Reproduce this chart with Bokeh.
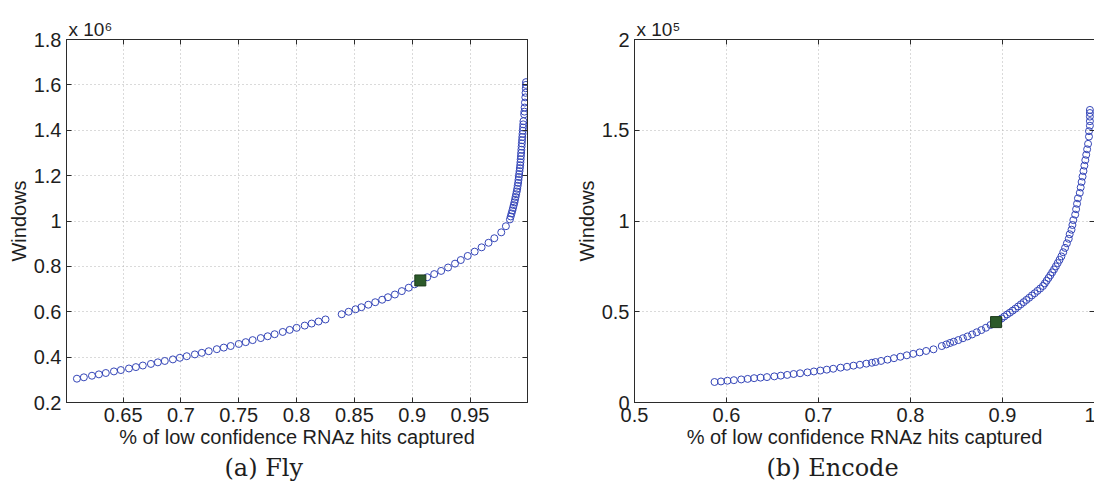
from bokeh.plotting import figure
from bokeh.models import Range1d, FixedTicker, LinearAxis, CustomJSTickFormatter, Title
from bokeh.layouts import row
from bokeh.embed import file_html
from bokeh.resources import INLINE

SANS = "Liberation Sans"
SERIF = "DejaVu Serif"

# ---------------- (a) Fly ----------------
fly_x = [0.610, 0.616, 0.623, 0.629, 0.635, 0.642, 0.648, 0.655, 0.661, 0.667,
         0.674, 0.680, 0.686, 0.693, 0.699, 0.705, 0.712, 0.718, 0.724, 0.731,
         0.737, 0.743, 0.750, 0.756, 0.762, 0.769, 0.775, 0.781, 0.788, 0.794,
         0.800, 0.807, 0.813, 0.819, 0.825,
         0.839, 0.845, 0.851, 0.856, 0.862, 0.868, 0.874, 0.879, 0.885, 0.891,
         0.897, 0.902, 0.907, 0.913, 0.919, 0.925, 0.931, 0.937, 0.942, 0.948,
         0.954, 0.960, 0.966, 0.971, 0.977, 0.981,
         0.9845, 0.9852, 0.9859, 0.9866, 0.9872, 0.9878, 0.9884, 0.9889, 0.9894, 0.9899,
         0.9904, 0.9908, 0.9912, 0.9916, 0.9919, 0.9922, 0.9925, 0.9928, 0.9931, 0.9934,
         0.9936, 0.9938, 0.9940, 0.9942, 0.9944, 0.9946, 0.9948, 0.9950, 0.9952, 0.9954,
         0.9956, 0.9958, 0.9960, 0.9962, 0.9968, 0.9970, 0.9972, 0.9975, 0.9978, 0.9980,
         0.9982, 0.9983, 0.9984]
fly_y = [305000, 311000, 318000, 324000, 330000, 337000, 343000, 350000, 356000, 363000,
         370000, 377000, 383000, 390000, 397000, 404000, 412000, 419000, 426000, 435000,
         442000, 449000, 458000, 466000, 475000, 484000, 492000, 501000, 511000, 520000,
         529000, 539000, 548000, 557000, 566000,
         589000, 600000, 611000, 620000, 631000, 642000, 653000, 664000, 676000, 691000,
         706000, 721000, 738000, 752000, 766000, 780000, 795000, 812000, 828000, 846000,
         865000, 884000, 904000, 924000, 950000, 977000,
         1007000, 1020000, 1033000, 1046000, 1058000, 1070000, 1082000, 1094000, 1106000, 1118000,
         1130000, 1142000, 1155000, 1168000, 1181000, 1194000, 1207000, 1220000, 1233000, 1246000,
         1259000, 1272000, 1286000, 1300000, 1314000, 1328000, 1342000, 1356000, 1370000, 1384000,
         1398000, 1412000, 1426000, 1440000, 1470000, 1482000, 1500000, 1522000, 1545000, 1565000,
         1585000, 1600000, 1612000]
fly_pick_x = [0.907]
fly_pick_y = [738000]
fly_xticks = [0.65, 0.7, 0.75, 0.8, 0.85, 0.9, 0.95]
fly_yticks = [200000, 400000, 600000, 800000, 1000000, 1200000, 1400000, 1600000, 1800000]
fly_xrange = (0.601, 0.9997)
fly_yrange = (200000, 1800000)

# ---------------- (b) Encode ----------------
enc_x = [0.587, 0.594, 0.601, 0.608, 0.616, 0.623, 0.630, 0.637, 0.644, 0.652,
         0.659, 0.666, 0.673, 0.680, 0.688, 0.695, 0.702, 0.709, 0.716, 0.724,
         0.731, 0.738, 0.745, 0.752, 0.758, 0.762, 0.768, 0.775, 0.782, 0.789,
         0.796, 0.803, 0.810, 0.817, 0.825,
         0.834, 0.839, 0.843, 0.847, 0.852, 0.857, 0.862, 0.867, 0.872, 0.877,
         0.882, 0.887, 0.893,
         0.896, 0.899, 0.902, 0.905, 0.908, 0.911, 0.914, 0.917, 0.920, 0.923,
         0.926, 0.929, 0.932, 0.935, 0.938, 0.941, 0.944, 0.946, 0.948, 0.950,
         0.952, 0.954, 0.956, 0.958, 0.960, 0.962, 0.964, 0.966, 0.968, 0.970,
         0.972, 0.973, 0.975, 0.976, 0.977, 0.979, 0.980, 0.981, 0.982, 0.984,
         0.985, 0.986, 0.987, 0.988, 0.989, 0.990, 0.991, 0.992, 0.993, 0.994,
         0.994, 0.995, 0.995, 0.995, 0.995, 0.995]
enc_y = [11300, 11600, 12000, 12300, 12700, 13000, 13400, 13700, 14000, 14400,
         14800, 15200, 15700, 16100, 16600, 17100, 17600, 18100, 18600, 19200,
         19700, 20300, 20800, 21400, 21900, 22300, 22900, 23600, 24400, 25200,
         26000, 26800, 27600, 28400, 29300,
         31100, 32000, 32800, 33500, 34400, 35400, 36400, 37500, 38700, 39900,
         41200, 42700, 44300,
         45300, 46300, 47400, 48500, 49500, 50600, 51700, 52900, 54100, 55300,
         56500, 57700, 59000, 60200, 61500, 62800, 64200, 65600, 67100, 68600,
         70100, 71700, 73300, 75000, 76800, 78600, 80500, 82800, 85200, 87700,
         90200, 92700, 95200, 97800, 100500, 103500, 106500, 109500, 112500, 115500,
         118500, 121500, 124500, 127500, 130500, 133500, 136500, 139500, 142500, 146500,
         149500, 152500, 155000, 157500, 159500, 161200]
enc_pick_x = [0.893]
enc_pick_y = [44300]
enc_xticks = [0.5, 0.6, 0.7, 0.8, 0.9, 1.0]
enc_yticks = [0, 50000, 100000, 150000, 200000]
enc_xrange = (0.5, 1.0)
enc_yrange = (0, 200000)

AXIS_COLOR = "#2b2b2b"
TEXT_COLOR = "#1e1e1e"
CIRCLE_COLOR = "#3546b8"
PICK_FILL = "#2c5a2a"
PICK_LINE = "#1d3b1c"


def style_axis(ax, ticks, fmt_code, show_labels=True):
    ax.ticker = FixedTicker(ticks=ticks)
    if show_labels:
        ax.formatter = CustomJSTickFormatter(code=fmt_code)
    else:
        ax.formatter = CustomJSTickFormatter(code="return '';")
        ax.major_label_standoff = 0
    ax.major_tick_in = 5
    ax.major_tick_out = 0
    ax.minor_tick_line_color = None
    ax.axis_line_color = AXIS_COLOR
    ax.major_tick_line_color = AXIS_COLOR
    ax.major_label_text_font = SANS
    ax.major_label_text_font_size = "20px"
    ax.major_label_text_color = TEXT_COLOR


def make_panel(xs, ys, px, py, xt, yt, xr, yr, yfmt, mult, caption,
               cap_offset, frame_w, border_left, border_right):
    p = figure(frame_width=frame_w, frame_height=363,
               x_range=Range1d(*xr), y_range=Range1d(*yr),
               output_backend="svg", toolbar_location=None,
               min_border_left=border_left, min_border_right=border_right,
               min_border_top=39, min_border_bottom=80,
               background_fill_color="white", border_fill_color="white")
    p.outline_line_color = AXIS_COLOR
    p.outline_line_width = 1

    xfmt = "return String(Math.round(tick * 100) / 100);"
    style_axis(p.xaxis[0], xt, xfmt)
    style_axis(p.yaxis[0], yt, yfmt)
    p.xaxis[0].major_label_standoff = 5
    p.yaxis[0].major_label_standoff = 5

    p.xaxis[0].axis_label = "% of low confidence RNAz hits captured"
    p.yaxis[0].axis_label = "Windows"
    for ax in (p.xaxis[0], p.yaxis[0]):
        ax.axis_label_text_font = SANS
        ax.axis_label_text_font_size = "20px"
        ax.axis_label_text_font_style = "normal"
        ax.axis_label_text_color = TEXT_COLOR
        ax.axis_label_standoff = 1

    top = LinearAxis()
    style_axis(top, xt, "", show_labels=False)
    p.add_layout(top, "above")
    right = LinearAxis()
    style_axis(right, yt, "", show_labels=False)
    p.add_layout(right, "right")

    p.xgrid.ticker = FixedTicker(ticks=xt)
    p.ygrid.ticker = FixedTicker(ticks=yt)
    p.grid.grid_line_color = "#b4b4b4"
    p.grid.grid_line_dash = "1 3"
    p.grid.grid_line_width = 1

    p.scatter(xs, ys, marker="circle", size=7, fill_color=None,
              line_color=CIRCLE_COLOR, line_width=1)
    p.scatter(px, py, marker="square", size=11, fill_color=PICK_FILL,
              line_color=PICK_LINE, line_width=1)

    p.add_layout(Title(text=mult, align="left", offset=2, standoff=0,
                       text_font=SANS, text_font_size="19px",
                       text_font_style="normal", text_color=TEXT_COLOR),
                 "above")
    p.add_layout(Title(text=caption, align="left", offset=cap_offset, standoff=2,
                       text_font=SERIF, text_font_size="24px",
                       text_font_style="normal", text_color=TEXT_COLOR),
                 "below")
    return p


p1 = make_panel(fly_x, fly_y, fly_pick_x, fly_pick_y, fly_xticks, fly_yticks,
                fly_xrange, fly_yrange,
                "return String(Math.round(tick / 1e4) / 100);",
                "x 10\u2076", "(a) Fly", 158, 461, 66, 45)
p2 = make_panel(enc_x, enc_y, enc_pick_x, enc_pick_y, enc_xticks, enc_yticks,
                enc_xrange, enc_yrange,
                "return String(Math.round(tick / 1e3) / 100);",
                "x 10\u2075", "(b) Encode", 132, 460, 59, 1)

layout = row(p1, p2)
open("out.html", "w").write(file_html(layout, INLINE))
